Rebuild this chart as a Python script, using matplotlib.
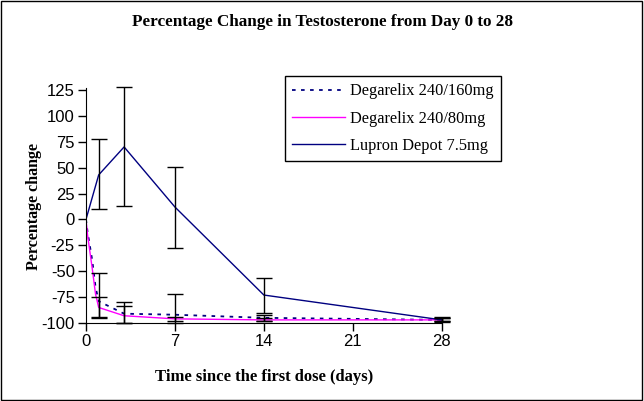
"""
Percentage change in testosterone, day 0 to 28
"""
import matplotlib

matplotlib.use("Agg")
import matplotlib.pyplot as plt
from matplotlib.patches import Rectangle

plt.rcParams["axes.unicode_minus"] = False

# Degarelix 240/160mg
days_160 = [0, 0.125, 0.5, 0.75, 1, 3, 7, 14, 28]
pct_160 = [0, -12, -40, -65, -79, -91, -92, -95, -97]
eb_days_160 = [1, 3, 7, 14, 28]
eb_mean_160 = [-79, -91, -92, -95, -97]
eb_lo_160 = [15, 9, 8, 3, 1.5]
eb_hi_160 = [27, 11, 20, 3, 1.5]

# Degarelix 240/80mg
days_80 = [0, 0.125, 0.5, 0.75, 1, 3, 7, 14, 28]
pct_80 = [0, -15, -48, -72, -85, -93, -96, -97, -97]
eb_days_80 = [1, 3, 7, 14, 28]
eb_mean_80 = [-85, -93, -96, -97, -97]
eb_lo_80 = [10, 7, 2, 1.5, 1.5]
eb_hi_80 = [10, 9, 2, 1.5, 1.5]

# Lupron Depot 7.5mg
days_lup = [0, 1, 3, 7, 14, 28]
pct_lup = [0, 43, 70, 12, -73, -97]
eb_days_lup = [1, 3, 7, 14, 28]
eb_mean_lup = [43, 70, 12, -73, -97]
eb_lo_lup = [33, 57, 40, 17, 2]
eb_hi_lup = [35, 58, 39, 16, 3]

xticks = [0, 7, 14, 21, 28]
yticks = [-100, -75, -50, -25, 0, 25, 50, 75, 100, 125]

serif = "Liberation Serif"
sans = "Liberation Sans"

fig = plt.figure(figsize=(6.44, 4.01), dpi=100)
ax = fig.add_axes([0.1335, 0.1945, 0.686 - 0.1335, 0.7756 - 0.1945])

ax.plot(days_160, pct_160, color="#000080", lw=1.3, ls=(0, (2, 3)), label="Degarelix 240/160mg")
ax.plot(days_80, pct_80, color="#FF00FF", lw=1.0, label="Degarelix 240/80mg")
ax.plot(days_lup, pct_lup, color="#000080", lw=1.0, label="Lupron Depot 7.5mg")

ebkw = dict(fmt="none", ecolor="black", elinewidth=1, capsize=6, capthick=1)
for d, m, e in [
    (eb_days_160, eb_mean_160, [eb_lo_160, eb_hi_160]),
    (eb_days_80, eb_mean_80, [eb_lo_80, eb_hi_80]),
    (eb_days_lup, eb_mean_lup, [eb_lo_lup, eb_hi_lup]),
]:
    eb = ax.errorbar(d, m, yerr=e, **ebkw)
    for art in eb.lines[1] + eb.lines[2]:
        art.set_clip_on(False)

ax.set_xlim(0, 28)
ax.set_ylim(-100, 125)
ax.set_xticks(xticks)
ax.set_yticks(yticks)
for s in ["top", "right"]:
    ax.spines[s].set_visible(False)
ax.spines["left"].set_bounds(-100, 127)
ax.tick_params(direction="out", length=6, width=1, pad=2, labelsize=12, colors="black")
for lab in ax.get_xticklabels() + ax.get_yticklabels():
    lab.set_fontfamily(sans)

ax.set_xlabel("Time since the first dose (days)", fontfamily=serif, fontweight="bold",
              fontsize=12, labelpad=14)
ax.set_ylabel("Percentage change", fontfamily=serif, fontweight="bold", fontsize=11.5,
              labelpad=0)

fig.text(0.5, 0.945, "Percentage Change in Testosterone from Day 0 to 28", ha="center",
         va="center", fontfamily=serif, fontweight="bold", fontsize=12.3)

leg = fig.legend(loc="upper left", bbox_to_anchor=(285 / 644, 1 - 76 / 401),
                 prop=dict(family=serif, size=11.8), frameon=True, fancybox=False,
                 edgecolor="black", framealpha=1, borderpad=0.45, labelspacing=0.68,
                 handlelength=3.2, handletextpad=0.3, borderaxespad=0)
leg.get_frame().set_linewidth(1)

fig.patches.append(Rectangle((0.002, 0.003), 0.995, 0.994, transform=fig.transFigure,
                             fill=False, edgecolor="black", lw=1))

fig.savefig("out.png", dpi=100)
